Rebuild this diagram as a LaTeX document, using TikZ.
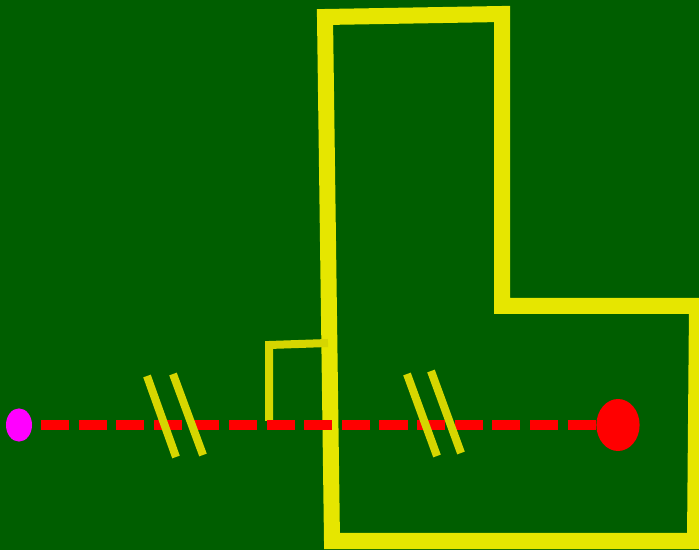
\documentclass[tikz,border=0pt]{standalone}
\usetikzlibrary{shapes.geometric}
\definecolor{bggreen}{HTML}{005E00}
\definecolor{wallyellow}{HTML}{E6E600}
\definecolor{markyellow}{HTML}{D6D600}
\definecolor{linkred}{HTML}{FF0000}
\definecolor{srcpink}{HTML}{FF00FF}
\tikzset{
  wall/.style={draw=wallyellow,line width=4mm,line join=miter},
  bracket/.style={draw=markyellow,line width=2mm},
  breakmark/.style={draw=markyellow,line width=2mm},
  link/.style={draw=linkred,line width=2.5mm,dash pattern=on 7mm off 2.4mm,dash phase=3.9mm},
  srcdot/.style={ellipse,fill=srcpink,inner sep=0pt,minimum width=6.5mm,minimum height=8.3mm},
  dstdot/.style={ellipse,fill=linkred,inner sep=0pt,minimum width=10.8mm,minimum height=13mm},
}
\begin{document}
\begin{tikzpicture}[x=0.025cm,y=-0.025cm]
  \fill[bggreen] (0,0) rectangle (699,550);
  \useasboundingbox (0,0) rectangle (699,550);
  % enclosure
  \draw[wall] (325,17) -- (502,14) -- (502,306) -- (697,306) -- (695,541) -- (332,541) -- cycle;
  \draw[bracket] (269,421) -- (269,345) -- (328,343);
  % link and break marks
  \coordinate (src) at (19,425);
  \coordinate (dst) at (618,425);
  \draw[link] (src) -- (dst);
  \draw[breakmark] (147,376) -- (176,457);
  \draw[breakmark] (173,374) -- (203,455);
  \draw[breakmark] (407,374) -- (437,456);
  \draw[breakmark] (431,371) -- (461,453);
  \node[srcdot] (s) at (src) {};
  \node[dstdot] (d) at (dst) {};
\end{tikzpicture}
\end{document}
